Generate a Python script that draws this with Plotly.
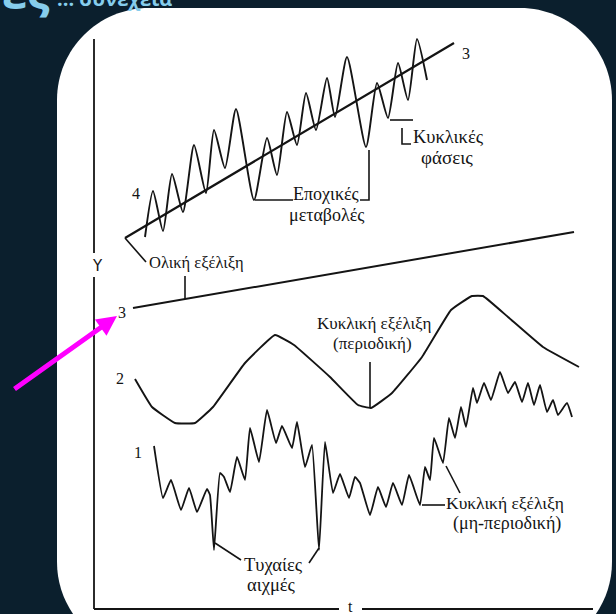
import plotly.graph_objects as go

# ---------------- data (schematic units: t horizontal, Y vertical, drawing scale) ----------------
# Series 4: trend + seasonal variation (top)
trend_top_t = [125, 454]
trend_top_y = [238, 43]
seasonal_t = [145, 153, 163, 172, 183, 194, 206, 214, 225, 236, 254, 267, 277, 287,
              297, 306, 316, 327, 335, 347, 366, 377, 388, 398, 408, 417, 427]
seasonal_y = [237, 191, 231, 174, 212, 145, 193, 130, 168, 109, 200, 138, 175, 112,
              145, 93, 130, 78, 117, 57, 147, 83, 118, 63, 100, 39, 80]

# Series 3: overall trend (straight line)
trend_t = [133, 574]
trend_y = [308, 232]

# Series 2: periodic cyclical movement
periodic_t = [135, 152, 175, 195, 213, 245, 275, 294, 330, 358, 371, 392, 422, 451,
              472, 483, 508, 543, 579]
periodic_y = [379, 407, 423, 423, 407, 363, 335, 345, 377, 405, 408, 393, 357, 310,
              296, 296, 317, 347, 367]

# Series 1: non-periodic cyclical movement with random spikes
irregular_t = [154, 163, 171, 181, 189, 197, 207, 210, 214, 220, 224, 230, 237, 245,
               250, 259, 267, 276, 282, 292, 297, 305, 312, 319, 325, 333, 340, 349,
               355, 360, 370, 378, 386, 393, 402, 409, 420, 425, 430, 434, 443, 449,
               455, 461, 466, 473, 477, 484, 491, 500, 508, 515, 522, 528, 534, 540,
               547, 553, 558, 567, 572]
irregular_y = [446, 498, 480, 510, 488, 512, 489, 495, 550, 473, 477, 492, 457, 480,
               428, 462, 410, 443, 426, 448, 422, 467, 445, 550, 442, 493, 474, 498,
               477, 483, 515, 487, 507, 483, 505, 475, 505, 467, 480, 438, 463, 418,
               438, 407, 427, 388, 403, 383, 400, 372, 393, 382, 402, 383, 405, 385,
               412, 400, 415, 403, 417]

# Axes of the diagram (with gaps for the Y and t labels)
axis_segments = [
    ([94, 94], [39, 253]),
    ([94, 94], [277, 609]),
    ([94, 339], [609, 609]),
    ([362, 593], [609, 609]),
]

# Leader lines / brackets for the labels
leader_segments = [
    ([125, 146], [238, 262]),              # Ολική εξέλιξη
    ([255, 293], [200, 200]),              # Εποχικές μεταβολές (left)
    ([360, 369, 369], [200, 200, 150]),    # Εποχικές μεταβολές (right)
    ([390, 413], [120, 120]),              # Κυκλικές φάσεις
    ([402, 402, 411], [128, 144, 144]),
    ([185, 185], [276, 299]),              # tick on trend line 3
    ([370, 370], [362, 407]),              # Κυκλική εξέλιξη (περιοδική)
    ([422, 445], [505, 505]),              # Κυκλική εξέλιξη (μη-περιοδική)
    ([446, 460], [466, 493]),
    ([215, 241], [543, 560]),              # Τυχαίες αιχμές
    ([319, 309], [548, 563]),
]

# Text labels
label_text = ["4", "3", "Y", "Ολική εξέλιξη", "Εποχικές", "μεταβολές", "Κυκλικές", "φάσεις",
              "3", "Κυκλική εξέλιξη", "(περιοδική)", "2", "1", "Κυκλική εξέλιξη",
              "(μη-περιοδική)", "Τυχαίες", "αιχμές", "t"]
label_x = [136, 466, 97, 147, 326, 326, 448, 447, 122, 374, 372, 120, 138, 505, 507, 273, 271, 350]
label_y = [193, 53, 266, 262, 194, 215, 137, 157, 312, 323, 343, 378, 452, 503, 523, 565, 585, 606]
label_anchor = ["center", "center", "center", "left", "center", "center", "center", "center",
                "center", "center", "center", "center", "center", "center", "center",
                "center", "center", "center"]
label_size = [16, 16, 15, 16.5, 18, 18, 18.5, 19, 16, 17, 17, 16, 16, 17.5, 18, 18.5, 18.5, 16]

# Magenta pointer arrow (tail -> head)
arrow_tail = (13, 390)
arrow_head = (117, 316)

# Slide decoration
BG = "#0b1f2d"
INK = "#141414"
TITLE_BLUE = "#86cdec"
panel = dict(x0=57, x1=612, y0=8, y1=654, r=92)

W, H = 616, 614

fig = go.Figure()

def add_line(xs, ys, width=1.9, shape="linear", smoothing=None):
    line = dict(color=INK, width=width, shape=shape)
    if smoothing is not None:
        line["smoothing"] = smoothing
    fig.add_trace(go.Scatter(x=xs, y=ys, mode="lines", line=line,
                             hoverinfo="skip", showlegend=False))

for xs, ys in axis_segments:
    add_line(xs, ys, width=1.8)
for xs, ys in leader_segments:
    add_line(xs, ys, width=1.6)

add_line(trend_top_t, trend_top_y, width=2.2)
add_line(seasonal_t, seasonal_y, width=1.9, shape="spline", smoothing=0.6)
add_line(trend_t, trend_y, width=2.0)
add_line(periodic_t, periodic_y, width=1.9, shape="spline", smoothing=0.3)
add_line(irregular_t, irregular_y, width=1.8, shape="spline", smoothing=0.35)

annotations = []
for txt, x, y, anc, sz in zip(label_text, label_x, label_y, label_anchor, label_size):
    fam = "DejaVu Sans" if txt == "Y" else "Liberation Serif"
    annotations.append(dict(x=x, y=y, xref="x", yref="y", text=txt, showarrow=False,
                            xanchor=anc, yanchor="middle",
                            font=dict(family=fam, size=sz, color=INK)))

annotations.append(dict(x=arrow_head[0], y=arrow_head[1], ax=arrow_tail[0], ay=arrow_tail[1],
                        xref="x", yref="y", axref="x", ayref="y", text="", showarrow=True,
                        arrowhead=2, arrowsize=0.8, arrowwidth=5, arrowcolor="#ff00ff"))

# cut-off slide title
annotations.append(dict(x=0, y=24, xref="x", yref="y", text="<b>ες</b>", showarrow=False,
                        xanchor="left", yanchor="bottom",
                        font=dict(family="Open Sans", size=45, color=TITLE_BLUE)))
annotations.append(dict(x=55, y=14, xref="x", yref="y", text="<b>... συνέχεια</b>", showarrow=False,
                        xanchor="left", yanchor="bottom",
                        font=dict(family="Open Sans", size=20, color=TITLE_BLUE)))

x0, x1, y0, y1, r = panel["x0"], panel["x1"], panel["y0"], panel["y1"], panel["r"]
k = 0.5523 * r
path = (f"M {x0+r},{y0} L {x1-r},{y0} C {x1-r+k},{y0} {x1},{y0+r-k} {x1},{y0+r} "
        f"L {x1},{y1-r} C {x1},{y1-r+k} {x1-r+k},{y1} {x1-r},{y1} "
        f"L {x0+r},{y1} C {x0+r-k},{y1} {x0},{y1-r+k} {x0},{y1-r} "
        f"L {x0},{y0+r} C {x0},{y0+r-k} {x0+r-k},{y0} {x0+r},{y0} Z")

fig.update_layout(
    width=W, height=H,
    margin=dict(l=0, r=0, t=0, b=0),
    paper_bgcolor=BG, plot_bgcolor=BG,
    xaxis=dict(range=[0, W], visible=False, fixedrange=True),
    yaxis=dict(range=[H, 0], visible=False, fixedrange=True),
    shapes=[dict(type="path", path=path, xref="x", yref="y", fillcolor="white",
                 line=dict(width=0), layer="below")],
    annotations=annotations,
)

fig.write_html("out.html",
               config={"displayModeBar": False},
               post_script=["document.body.style.margin='0';document.body.style.overflow='hidden';"])
